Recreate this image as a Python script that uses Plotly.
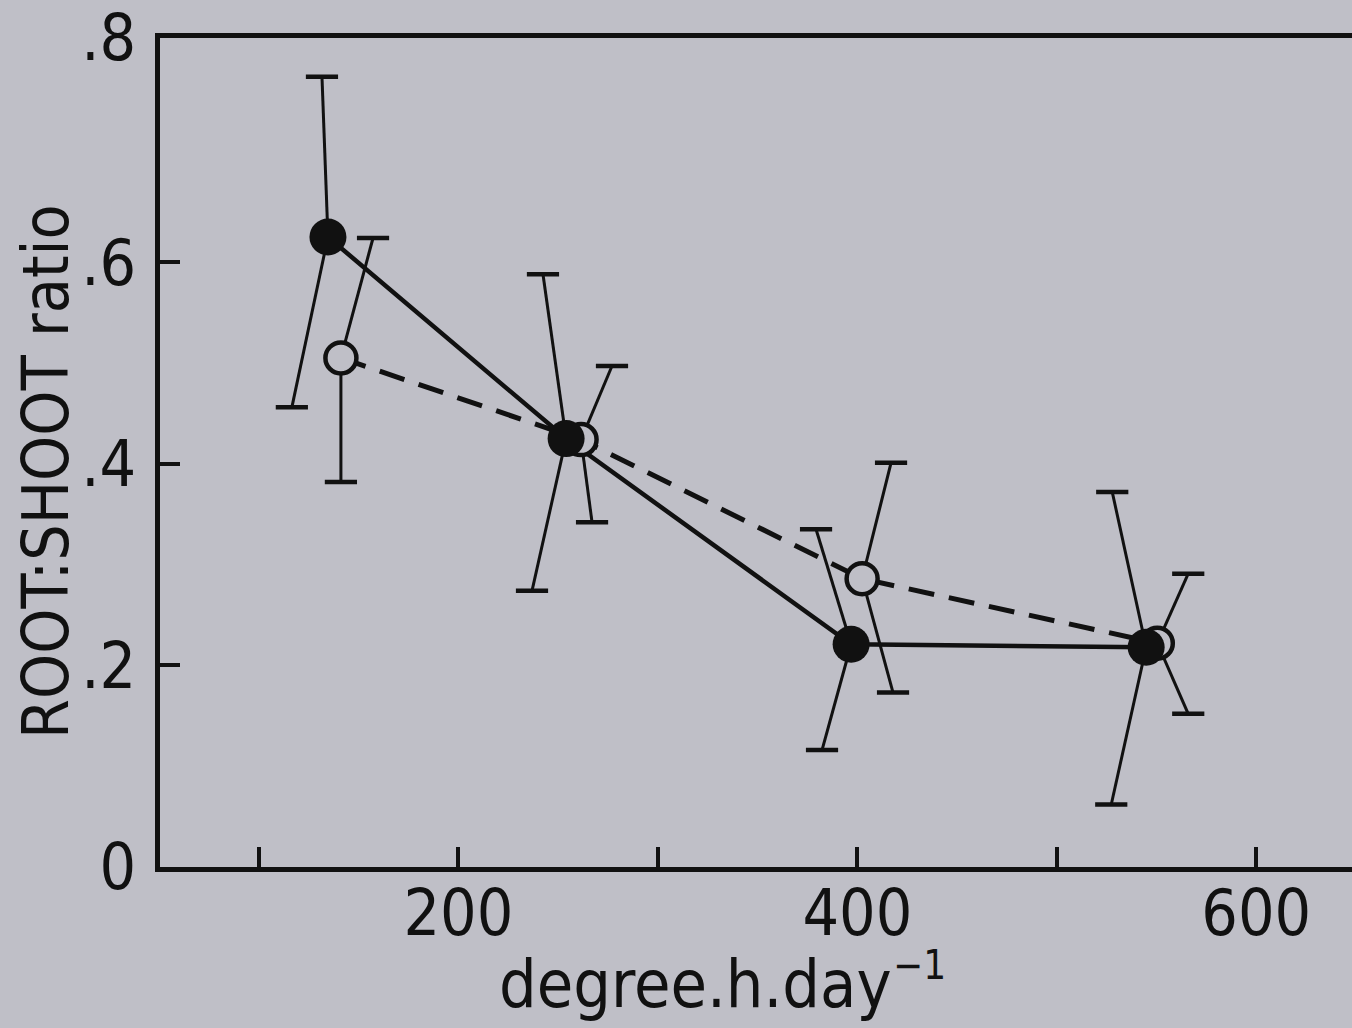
import plotly.graph_objects as go

# ---- data ----
# filled circles, solid line
filled_x = [134.6, 254.0, 396.9, 544.8]
filled_y = [0.625, 0.425, 0.221, 0.218]
filled_hi_x = [131.6, 242.4, 379.3, 527.8]
filled_hi = [0.784, 0.588, 0.335, 0.372]
filled_lo_x = [116.5, 236.9, 382.3, 527.3]
filled_lo = [0.456, 0.274, 0.116, 0.062]

# open circles, dashed line
open_x = [141.1, 261.5, 402.4, 550.4]
open_y = [0.505, 0.424, 0.286, 0.222]
open_hi_x = [157.2, 277.0, 416.9, 565.9]
open_hi = [0.624, 0.497, 0.401, 0.291]
open_lo_x = [141.1, 267.0, 417.9, 565.9]
open_lo = [0.382, 0.342, 0.173, 0.152]

x_tickvals = [100, 200, 300, 400, 500, 600]
x_ticktext = ["", "200", "", "400", "", "600"]
y_tickvals = [0, 0.2, 0.4, 0.6, 0.8224]
y_ticktext = ["0", ".2", ".4", ".6", ".8"]

x_title = "degree.h.day"
x_title_exp = "\u22121"
y_title = "ROOT:SHOOT ratio"

BG = "#bfbfc7"
INK = "#111111"
FONT = "DejaVu Sans Condensed, Liberation Sans Narrow, DejaVu Sans, sans-serif"

W, H = 1352, 1028
ML, MR, MT, MB = 160, 0, 38, 161
PW, PH = W - ML - MR, H - MT - MB


def px_x(p):
    return (p - ML) / PW


def px_y(p):
    return (H - MB - p) / PH


def err_segments(xs, ys, ex, ey):
    sx, sy = [], []
    for a, b, c, d in zip(xs, ys, ex, ey):
        sx += [a, c, None]
        sy += [b, d, None]
    return sx, sy


fig = go.Figure()

# connecting lines
fig.add_trace(go.Scatter(x=open_x, y=open_y, mode="lines",
                         line=dict(color=INK, width=5, dash="26px,15px"),
                         hoverinfo="skip", showlegend=False))
fig.add_trace(go.Scatter(x=filled_x, y=filled_y, mode="lines",
                         line=dict(color=INK, width=4.5),
                         hoverinfo="skip", showlegend=False))

# error bars (slanted as in the original drawing)
for xs, ys, hx, hy, lx, ly in [
    (filled_x, filled_y, filled_hi_x, filled_hi, filled_lo_x, filled_lo),
    (open_x, open_y, open_hi_x, open_hi, open_lo_x, open_lo),
]:
    sx1, sy1 = err_segments(xs, ys, hx, hy)
    sx2, sy2 = err_segments(xs, ys, lx, ly)
    fig.add_trace(go.Scatter(x=sx1 + sx2, y=sy1 + sy2, mode="lines",
                             line=dict(color=INK, width=3),
                             hoverinfo="skip", showlegend=False))
    fig.add_trace(go.Scatter(x=list(hx) + list(lx), y=list(hy) + list(ly),
                             mode="markers",
                             marker=dict(symbol="line-ew", size=23,
                                         line=dict(color=INK, width=4.5)),
                             hoverinfo="skip", showlegend=False))

# markers
fig.add_trace(go.Scatter(x=open_x, y=open_y, mode="markers",
                         marker=dict(symbol="circle", size=31, color=BG,
                                     line=dict(color=INK, width=4.5)),
                         showlegend=False))
fig.add_trace(go.Scatter(x=filled_x, y=filled_y, mode="markers",
                         marker=dict(symbol="circle", size=37, color=INK,
                                     line=dict(color=INK, width=0)),
                         showlegend=False))

fig.update_layout(
    width=W, height=H, autosize=False,
    margin=dict(l=ML, r=MR, t=MT, b=MB),
    paper_bgcolor=BG, plot_bgcolor=BG,
    font=dict(family=FONT, color=INK),
    showlegend=False,
)

fig.update_xaxes(
    range=[50.4, 648], showgrid=False, zeroline=False,
    showline=True, linecolor=INK, linewidth=5, mirror=True,
    ticks="inside", ticklen=20, tickwidth=4, tickcolor=INK,
    tickvals=x_tickvals, ticktext=x_ticktext,
    tickfont=dict(size=64, family=FONT, color=INK),
    ticklabelstandoff=-14,
)
fig.update_yaxes(
    range=[0, 0.8224], showgrid=False, zeroline=False,
    showline=True, linecolor=INK, linewidth=5, mirror=False,
    ticks="inside", ticklen=20, tickwidth=4, tickcolor=INK,
    tickvals=y_tickvals, ticktext=y_ticktext,
    tickfont=dict(size=64, family=FONT, color=INK),
    ticklabelstandoff=6,
)

fig.add_annotation(text=x_title, xref="paper", yref="paper",
                   x=px_x(497), y=px_y(984),
                   xanchor="left", yanchor="middle", showarrow=False,
                   font=dict(size=66, family=FONT, color=INK))
fig.add_annotation(text=x_title_exp, xref="paper", yref="paper",
                   x=px_x(891), y=px_y(965),
                   xanchor="left", yanchor="middle", showarrow=False,
                   font=dict(size=40, family=FONT, color=INK))
fig.add_annotation(text=y_title, xref="paper", yref="paper",
                   x=px_x(46), y=px_y(472),
                   xanchor="center", yanchor="middle", showarrow=False,
                   textangle=-90,
                   font=dict(size=64, family=FONT, color=INK))

fig.write_html(
    "out.html",
    config={"displayModeBar": False},
    post_script="document.body.style.margin='0';"
                "document.body.style.background='" + BG + "';",
)
